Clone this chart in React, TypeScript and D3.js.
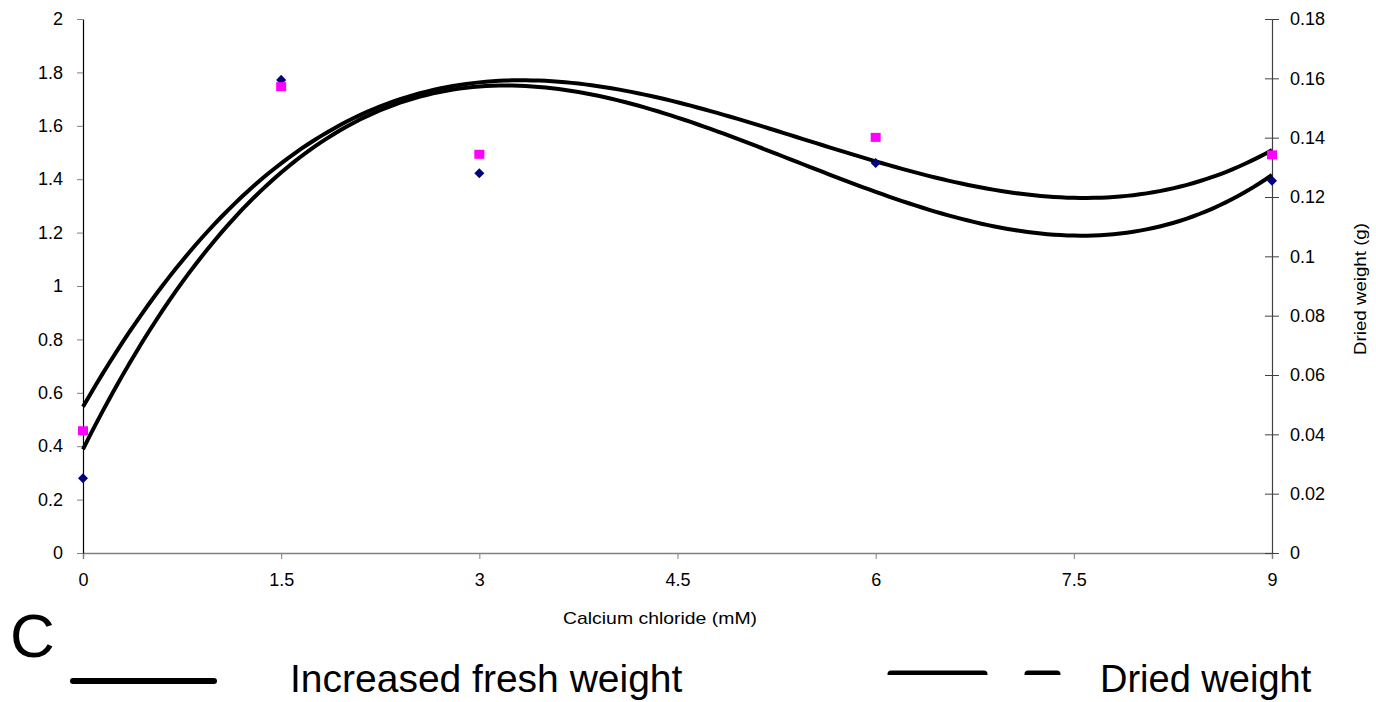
import { useEffect, useRef } from 'react'
import * as d3 from 'd3'

const W = 1376, H = 702
const M = { left: 83, right: 1376 - 1272, top: 19, bottom: 702 - 553 }

// Calcium chloride concentrations (mM)
const conc = [0, 1.5, 3, 6, 9]
// Increased fresh weight (left axis)
const freshWeight = [0.28, 1.772, 1.422, 1.461, 1.394]
// Dried weight in g (right axis)
const driedWeight = [0.0412, 0.1572, 0.1344, 0.1401, 0.1342]

const xTicks = [0, 1.5, 3, 4.5, 6, 7.5, 9]
const leftTicks = [0, 0.2, 0.4, 0.6, 0.8, 1, 1.2, 1.4, 1.6, 1.8, 2]
const rightTicks = [0, 0.02, 0.04, 0.06, 0.08, 0.1, 0.12, 0.14, 0.16, 0.18]

const FONT = 'Liberation Sans, Arial, Helvetica, sans-serif'

// least squares cubic trendline (like the spreadsheet's polynomial trendline)
function cubicFit(xs: number[], ys: number[]) {
  const n = 4
  const A: number[][] = []
  for (let i = 0; i < n; i++) {
    const row: number[] = []
    for (let j = 0; j < n; j++) row.push(d3.sum(xs, x => x ** (i + j)))
    row.push(d3.sum(xs, (x, k) => ys[k] * x ** i))
    A.push(row)
  }
  for (let c = 0; c < n; c++) {
    let p = c
    for (let r = c + 1; r < n; r++) if (Math.abs(A[r][c]) > Math.abs(A[p][c])) p = r
    ;[A[c], A[p]] = [A[p], A[c]]
    for (let r = 0; r < n; r++) {
      if (r === c) continue
      const f = A[r][c] / A[c][c]
      for (let k = c; k <= n; k++) A[r][k] -= f * A[c][k]
    }
  }
  const coef = A.map((row, i) => row[n] / row[i])
  return (x: number) => coef[0] + coef[1] * x + coef[2] * x * x + coef[3] * x * x * x
}

export default function App() {
  const svgRef = useRef<SVGSVGElement>(null)

  useEffect(() => {
    const svg = d3.select(svgRef.current)
    svg.selectAll('*').remove()

    const x = d3.scaleLinear([0, 9], [M.left, W - M.right])
    const yL = d3.scaleLinear([0, 2], [H - M.bottom, M.top])
    const yR = d3.scaleLinear([0, 0.18], [H - M.bottom, M.top])
    const y0 = H - M.bottom

    // x axis (grey)
    const gx = svg.append('g').attr('transform', `translate(0,${y0})`)
      .call(d3.axisBottom(x).tickValues(xTicks).tickSize(6).tickPadding(14).tickFormat(d => String(d)))
    gx.select('.domain').attr('stroke', '#808080').attr('stroke-width', 1.5)
    gx.selectAll('.tick line').attr('stroke', '#808080')
    gx.selectAll('text').attr('font-size', 18).attr('font-family', FONT).attr('fill', '#000')

    // left axis
    const gl = svg.append('g').attr('transform', `translate(${M.left},0)`)
      .call(d3.axisLeft(yL).tickValues(leftTicks).tickSize(6).tickPadding(14).tickSizeOuter(0).tickFormat(d => String(d)))
    gl.select('.domain').attr('stroke', '#000').attr('stroke-width', 1.2)
    gl.selectAll('.tick line').attr('stroke', '#808080')
    gl.selectAll('text').attr('font-size', 18).attr('font-family', FONT).attr('fill', '#000')

    // right axis, ticks crossing the line
    const gr = svg.append('g').attr('transform', `translate(${W - M.right},0)`)
      .call(d3.axisRight(yR).tickValues(rightTicks).tickSize(7).tickPadding(11).tickSizeOuter(0).tickFormat(d => String(d)))
    gr.select('.domain').attr('stroke', '#404040').attr('stroke-width', 1.2)
    gr.selectAll('.tick line').attr('stroke', '#404040').attr('x1', -7)
    gr.selectAll('text').attr('font-size', 18).attr('font-family', FONT).attr('fill', '#000')

    // axis titles
    svg.append('text').attr('x', 660).attr('y', 624).attr('text-anchor', 'middle')
      .attr('font-size', 17).attr('font-family', FONT)
      .attr('textLength', 194).attr('lengthAdjust', 'spacingAndGlyphs').text('Calcium chloride (mM)')
    svg.append('text').attr('transform', 'translate(1366,289) rotate(-90)').attr('text-anchor', 'middle')
      .attr('font-size', 17).attr('font-family', FONT)
      .attr('textLength', 132).attr('lengthAdjust', 'spacingAndGlyphs').text('Dried weight (g)')

    // trendlines
    const xs = d3.range(0, 9.0001, 0.05)
    const fFresh = cubicFit(conc, freshWeight)
    const fDried = cubicFit(conc, driedWeight)
    svg.append('path')
      .attr('d', d3.line<number>().x(v => x(v)).y(v => yL(fFresh(v)))(xs))
      .attr('fill', 'none').attr('stroke', '#000').attr('stroke-width', 4)
    svg.append('path')
      .attr('d', d3.line<number>().x(v => x(v)).y(v => yR(fDried(v)))(xs))
      .attr('fill', 'none').attr('stroke', '#000').attr('stroke-width', 4)

    // points
    svg.append('g').selectAll('path').data(conc).join('path')
      .attr('d', d3.symbol(d3.symbolDiamond2, 64)())
      .attr('transform', (c, i) => `translate(${x(c)},${yL(freshWeight[i])})`)
      .attr('fill', '#000080')
    svg.append('g').selectAll('rect').data(conc).join('rect')
      .attr('x', c => x(c) - 5).attr('y', (c, i) => yR(driedWeight[i]) - 4.5)
      .attr('width', 10).attr('height', 9).attr('fill', '#ff00ff')

    // panel letter
    svg.append('text').attr('x', 10).attr('y', 657).attr('font-size', 62)
      .attr('font-family', FONT).text('C')

    // legend
    svg.append('line').attr('x1', 73).attr('x2', 214).attr('y1', 681).attr('y2', 681)
      .attr('stroke', '#000').attr('stroke-width', 6).attr('stroke-linecap', 'round')
    svg.append('text').attr('x', 290).attr('y', 692).attr('font-size', 39)
      .attr('font-family', FONT).text('Increased fresh weight')

    svg.append('clipPath').attr('id', 'legclip')
      .append('rect').attr('x', 860).attr('y', 640).attr('width', 260).attr('height', 35)
    svg.append('line').attr('x1', 891).attr('x2', 1057).attr('y1', 674).attr('y2', 674)
      .attr('stroke', '#000').attr('stroke-width', 7).attr('stroke-linecap', 'round')
      .attr('stroke-dasharray', '93 44').attr('clip-path', 'url(#legclip)')
    svg.append('text').attr('x', 1100).attr('y', 692).attr('font-size', 38)
      .attr('font-family', FONT).text('Dried weight')
  }, [])

  return (
    <svg ref={svgRef} width={W} height={H} viewBox={`0 0 ${W} ${H}`}
      style={{ position: 'absolute', left: 0, top: 0, background: '#fff' }} />
  )
}
